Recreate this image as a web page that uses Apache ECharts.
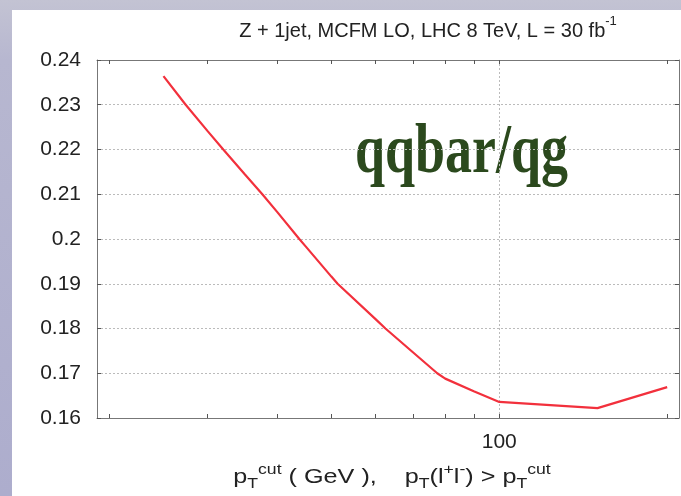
<!DOCTYPE html>
<html>
<head>
<meta charset="utf-8">
<script src="https://cdn.jsdelivr.net/npm/echarts@6/dist/echarts.min.js"></script>
<style>
  html, body { margin: 0; padding: 0; }
  body { width: 681px; height: 496px; background: linear-gradient(180deg, #c3c3d3 0px, #b7b7d0 60px, #adadcd 496px); position: relative; overflow: hidden; }
  #panel { position: absolute; left: 12px; top: 10px; right: 0; bottom: 0; background: #fff; }
  #chart { position: absolute; left: 0; top: 0; width: 681px; height: 496px; }
</style>
</head>
<body>
<div id="panel"></div>
<div id="chart"></div>
<script>
// pT cut (GeV) and qqbar/qg ratio
const ptCut = [25, 27.4, 30, 32, 35, 37.6, 40, 43.8, 45, 50, 51.3, 60, 62.5, 70, 77.4, 80, 90, 100, 150, 200]
const ratio = [0.2364, 0.230, 0.2241, 0.220, 0.2144, 0.210, 0.2060, 0.200, 0.1983, 0.1916, 0.190, 0.1821, 0.180, 0.1747, 0.170, 0.1688, 0.1660, 0.1636, 0.1622, 0.1669]
const xTicks = [20, 30, 40, 50, 60, 70, 80, 90, 100, 200]
const xLabels = [100]

const font = 'Liberation Sans, Arial, sans-serif'
const frame = '#777'
const chart = echarts.init(document.getElementById('chart'))

const xBase = {
  type: 'log', logBase: 10, min: 19, max: 210,
  axisLine: { show: true, lineStyle: { color: frame, width: 1 } },
  axisTick: { show: true, inside: true, length: 4, customValues: xTicks, lineStyle: { color: '#555' } },
  axisLabel: { show: false },
  splitLine: { show: false }
}

chart.setOption({
  animation: false,
  backgroundColor: 'transparent',
  grid: { left: 97, right: 2, top: 60, bottom: 78 },
  xAxis: [
    Object.assign({}, xBase, {
      position: 'bottom',
      axisLabel: {
        show: true, customValues: xLabels, color: '#222', fontFamily: font, fontSize: 21, margin: 14
      }
    }),
    Object.assign({}, xBase, { position: 'top' }),
    Object.assign({}, xBase, {
      position: 'bottom',
      axisLine: { show: false },
      axisTick: { show: false, customValues: [100] },
      splitLine: { show: true, lineStyle: { color: '#bbb', type: [2, 2], width: 1 } }
    })
  ],
  yAxis: [
    {
      type: 'value', min: 0.16, max: 0.24, interval: 0.01, position: 'left',
      axisLine: { show: true, lineStyle: { color: frame } },
      axisTick: { show: true, inside: true, length: 4, lineStyle: { color: '#555' } },
      axisLabel: {
        color: '#222', fontFamily: font, fontSize: 21, margin: 16,
        formatter: v => String(Math.round(v * 100) / 100)
      },
      splitLine: { show: true, lineStyle: { color: '#bbb', type: [2, 2], width: 1 } }
    },
    {
      type: 'value', min: 0.16, max: 0.24, interval: 0.01, position: 'right',
      axisLine: { show: true, lineStyle: { color: frame } },
      axisTick: { show: true, inside: true, length: 4, lineStyle: { color: '#555' } },
      axisLabel: { show: false },
      splitLine: { show: false }
    }
  ],
  graphic: [
    {
      // title
      type: 'text', x: 428, y: 28,
      style: {
        text: '{a|Z + 1jet, MCFM LO, LHC 8 TeV, L = 30 fb}{s|-1}',
        x: 0, y: 0, align: 'center', verticalAlign: 'middle',
        rich: {
          a: { fontFamily: font, fontSize: 20, fill: '#222', verticalAlign: 'bottom', lineHeight: 26 },
          s: { fontFamily: font, fontSize: 13, fill: '#222', verticalAlign: 'top', lineHeight: 26 }
        }
      }
    },
    {
      type: 'text', x: 355, y: 154, scaleY: 1.3,
      style: {
        text: 'qqbar/qg', x: 0, y: 0, verticalAlign: 'middle',
        fill: '#2b491d', font: 'bold 54px "Liberation Serif", "DejaVu Serif", serif'
      }
    },
    {
      // x axis name
      type: 'text', x: 392, y: 477, scaleX: 1.26,
      style: {
        text: '{a|p}{b|T}{c|cut}{a| ( GeV ),    p}{b|T}{a|(l}{c|+}{a|l}{c|-}{a|) > p}{b|T}{c|cut}',
        x: 0, y: 0, align: 'center', verticalAlign: 'middle',
        rich: {
          a: { fontFamily: font, fontSize: 20, fill: '#222', verticalAlign: 'middle', lineHeight: 28 },
          b: { fontFamily: font, fontSize: 14, fill: '#222', verticalAlign: 'bottom', lineHeight: 28 },
          c: { fontFamily: font, fontSize: 14, fill: '#222', verticalAlign: 'top', lineHeight: 28 }
        }
      }
    }
  ],
  series: [{
    type: 'line',
    xAxisIndex: 0, yAxisIndex: 0,
    data: ptCut.map((x, i) => [x, ratio[i]]),
    showSymbol: false,
    lineStyle: { color: '#f2303c', width: 2.2 },
    itemStyle: { color: '#f2303c' }
  }]
})
</script>
</body>
</html>
